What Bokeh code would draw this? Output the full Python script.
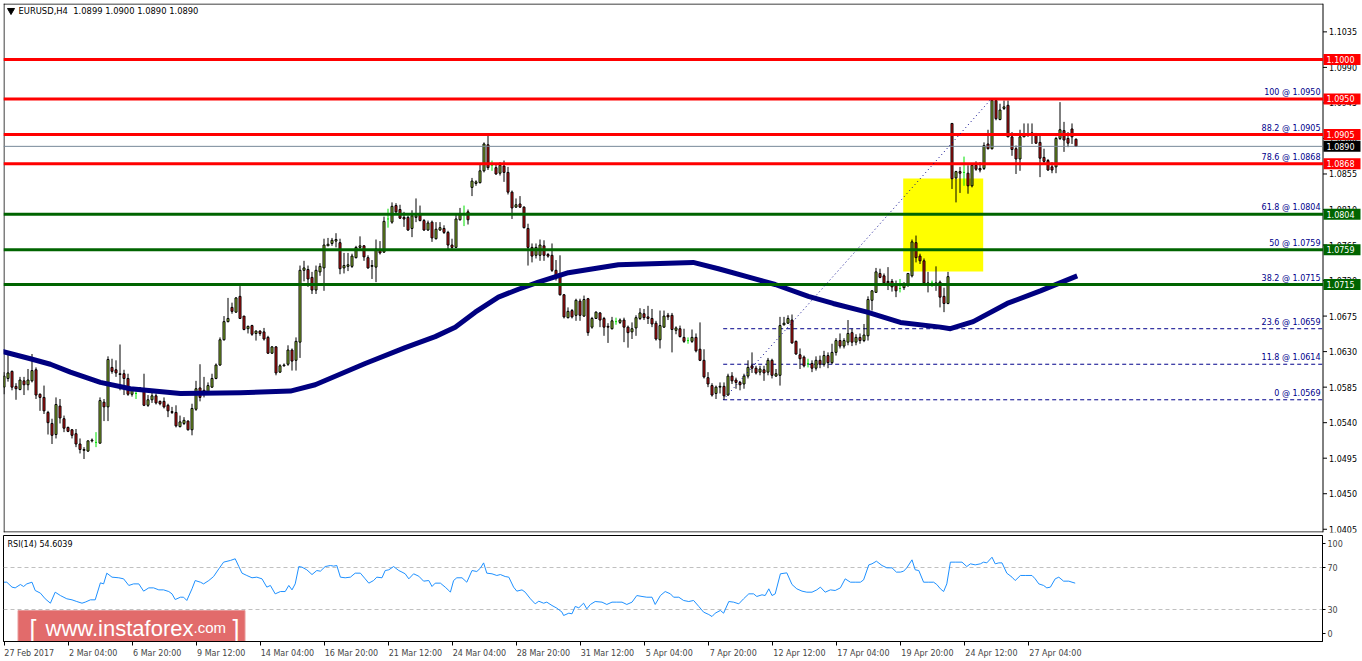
from bokeh.plotting import figure
from bokeh.layouts import column
from bokeh.models import Range1d, FixedTicker
from bokeh.core.properties import value
from bokeh.embed import file_html
from bokeh.resources import INLINE

# ---------------- data ----------------
opens = [1.0585,1.0596,1.0605,1.0586,1.0582,1.0593,1.0588,1.0593,1.0607,1.0576,
         1.0572,1.0553,1.0539,1.0525,1.0561,1.0545,1.0534,1.0531,1.0526,1.0513,
         1.0506,1.0504,1.0517,1.0515,1.0514,1.0566,1.0560,1.0610,1.0607,1.0602,
         1.0602,1.0596,1.0576,1.0577,1.0581,1.0581,1.0562,1.0569,1.0574,1.0567,
         1.0567,1.0562,1.0554,1.0553,1.0535,1.0539,1.0542,1.0531,1.0557,1.0584,
         1.0581,1.0579,1.0585,1.0596,1.0613,1.0645,1.0668,1.0686,1.0680,1.0700,
         1.0675,1.0659,1.0663,1.0653,1.0656,1.0655,1.0648,1.0628,1.0636,1.0604,
         1.0612,1.0614,1.0632,1.0619,1.0642,1.0733,1.0734,1.0724,1.0708,1.0731,
         1.0736,1.0764,1.0767,1.0770,1.0768,1.0736,1.0738,1.0738,1.0749,1.0762,
         1.0764,1.0749,1.0738,1.0737,1.0758,1.0756,1.0798,1.0794,1.0815,1.0810,
         1.0800,1.0800,1.0786,1.0800,1.0805,1.0796,1.0784,1.0794,1.0773,1.0784,
         1.0786,1.0781,1.0765,1.0762,1.0797,1.0805,1.0807,1.0838,1.0843,1.0844,
         1.0859,1.0892,1.0866,1.0863,1.0856,1.0865,1.0857,1.0832,1.0813,1.0817,
         1.0813,1.0786,1.0762,1.0752,1.0752,1.0764,1.0753,1.0752,1.0733,1.0729,
         1.0702,1.0673,1.0682,1.0676,1.0694,1.0675,1.0697,1.0661,1.0672,1.0679,
         1.0672,1.0662,1.0659,1.0668,1.0667,1.0670,1.0661,1.0655,1.0660,1.0672,
         1.0678,1.0674,1.0672,1.0666,1.0645,1.0661,1.0676,1.0676,1.0657,1.0659,
         1.0648,1.0644,1.0643,1.0648,1.0633,1.0619,1.0597,1.0587,1.0577,1.0585,
         1.0586,1.0575,1.0599,1.0594,1.0591,1.0589,1.0599,1.0612,1.0609,1.0604,
         1.0607,1.0604,1.0619,1.0599,1.0600,1.0664,1.0666,1.0670,1.0643,1.0626,
         1.0623,1.0615,1.0615,1.0609,1.0619,1.0614,1.0625,1.0616,1.0629,1.0644,
         1.0637,1.0642,1.0654,1.0642,1.0648,1.0644,1.0650,1.0695,1.0705,1.0729,
         1.0726,1.0719,1.0719,1.0714,1.0710,1.0711,1.0716,1.0726,1.0768,1.0751,
         1.0745,1.0716,1.0717,1.0717,1.0718,1.0700,1.0691,1.0919,1.0850,1.0858,
         1.0857,1.0856,1.0840,1.0866,1.0862,1.0862,1.0893,1.0887,1.0948,1.0924,
         1.0938,1.0942,1.0902,1.0887,1.0874,1.0902,1.0905,1.0905,1.0904,1.0895,
         1.0876,1.0872,1.0864,1.0864,1.0900,1.0910,1.0900,1.0912,1.0899]
highs = [1.0604,1.0626,1.0606,1.0590,1.0598,1.0598,1.0608,1.0627,1.0610,1.0577,
         1.0587,1.0555,1.0545,1.0572,1.0570,1.0549,1.0535,1.0532,1.0532,1.0520,
         1.0509,1.0517,1.0520,1.0528,1.0572,1.0570,1.0624,1.0621,1.0619,1.0639,
         1.0607,1.0602,1.0585,1.0583,1.0585,1.0602,1.0575,1.0579,1.0577,1.0568,
         1.0572,1.0564,1.0560,1.0562,1.0549,1.0547,1.0543,1.0564,1.0593,1.0614,
         1.0598,1.0591,1.0602,1.0615,1.0648,1.0675,1.0698,1.0692,1.0699,1.0713,
         1.0675,1.0663,1.0664,1.0657,1.0657,1.0660,1.0650,1.0637,1.0637,1.0614,
         1.0615,1.0638,1.0634,1.0648,1.0739,1.0745,1.0739,1.0731,1.0739,1.0742,
         1.0773,1.0774,1.0774,1.0780,1.0773,1.0755,1.0755,1.0754,1.0764,1.0776,
         1.0765,1.0752,1.0746,1.0772,1.0770,1.0801,1.0811,1.0819,1.0818,1.0816,
         1.0807,1.0802,1.0809,1.0824,1.0815,1.0798,1.0796,1.0796,1.0794,1.0794,
         1.0790,1.0783,1.0773,1.0805,1.0812,1.0815,1.0810,1.0850,1.0847,1.0868,
         1.0895,1.0904,1.0872,1.0868,1.0870,1.0872,1.0864,1.0834,1.0824,1.0827,
         1.0814,1.0792,1.0767,1.0767,1.0772,1.0771,1.0755,1.0767,1.0746,1.0752,
         1.0703,1.0686,1.0684,1.0697,1.0697,1.0701,1.0698,1.0674,1.0681,1.0680,
         1.0674,1.0666,1.0674,1.0673,1.0672,1.0673,1.0663,1.0667,1.0676,1.0685,
         1.0684,1.0688,1.0684,1.0669,1.0682,1.0682,1.0679,1.0679,1.0662,1.0663,
         1.0659,1.0648,1.0658,1.0653,1.0667,1.0633,1.0604,1.0590,1.0587,1.0591,
         1.0591,1.0602,1.0604,1.0597,1.0593,1.0602,1.0619,1.0629,1.0612,1.0612,
         1.0612,1.0622,1.0621,1.0608,1.0674,1.0674,1.0676,1.0677,1.0644,1.0634,
         1.0625,1.0621,1.0619,1.0624,1.0625,1.0631,1.0629,1.0640,1.0647,1.0653,
         1.0647,1.0670,1.0659,1.0652,1.0653,1.0665,1.0700,1.0708,1.0736,1.0735,
         1.0729,1.0737,1.0722,1.0720,1.0722,1.0718,1.0729,1.0772,1.0777,1.0754,
         1.0748,1.0731,1.0720,1.0738,1.0720,1.0711,1.0731,1.0919,1.0859,1.0864,
         1.0877,1.0866,1.0867,1.0871,1.0870,1.0895,1.0911,1.0950,1.0950,1.0944,
         1.0948,1.0948,1.0908,1.0891,1.0911,1.0919,1.0919,1.0919,1.0907,1.0906,
         1.0887,1.0874,1.0870,1.0902,1.0946,1.0921,1.0908,1.0919,1.0900]
lows = [1.0576,1.0592,1.0581,1.0569,1.0581,1.0575,1.0581,1.0591,1.0570,1.0555,
        1.0551,1.0525,1.0513,1.0520,1.0539,1.0528,1.0528,1.0520,1.0509,1.0501,
        1.0494,1.0503,1.0515,1.0509,1.0514,1.0542,1.0542,1.0602,1.0598,1.0581,
        1.0575,1.0574,1.0573,1.0570,1.0580,1.0561,1.0560,1.0565,1.0563,1.0562,
        1.0558,1.0547,1.0551,1.0534,1.0534,1.0537,1.0530,1.0524,1.0555,1.0567,
        1.0572,1.0577,1.0584,1.0595,1.0612,1.0644,1.0667,1.0678,1.0679,1.0672,
        1.0657,1.0653,1.0650,1.0644,1.0650,1.0644,1.0627,1.0627,1.0600,1.0603,
        1.0611,1.0612,1.0606,1.0606,1.0622,1.0719,1.0712,1.0703,1.0703,1.0726,
        1.0707,1.0764,1.0764,1.0762,1.0728,1.0729,1.0732,1.0736,1.0748,1.0760,
        1.0745,1.0735,1.0722,1.0718,1.0753,1.0755,1.0787,1.0792,1.0805,1.0798,
        1.0788,1.0783,1.0775,1.0794,1.0795,1.0783,1.0783,1.0769,1.0772,1.0783,
        1.0779,1.0760,1.0760,1.0762,1.0796,1.0789,1.0791,1.0827,1.0840,1.0843,
        1.0857,1.0860,1.0859,1.0854,1.0853,1.0845,1.0829,1.0798,1.0812,1.0812,
        1.0786,1.0739,1.0743,1.0748,1.0745,1.0745,1.0749,1.0731,1.0720,1.0701,
        1.0672,1.0672,1.0672,1.0669,1.0669,1.0674,1.0650,1.0659,1.0672,1.0661,
        1.0650,1.0641,1.0658,1.0664,1.0665,1.0642,1.0635,1.0646,1.0650,1.0670,
        1.0670,1.0665,1.0661,1.0644,1.0634,1.0660,1.0670,1.0629,1.0652,1.0648,
        1.0641,1.0640,1.0641,1.0629,1.0618,1.0596,1.0585,1.0573,1.0570,1.0577,
        1.0569,1.0574,1.0589,1.0583,1.0581,1.0583,1.0596,1.0603,1.0601,1.0600,
        1.0593,1.0600,1.0596,1.0598,1.0587,1.0663,1.0665,1.0640,1.0626,1.0608,
        1.0610,1.0610,1.0604,1.0606,1.0609,1.0611,1.0609,1.0614,1.0625,1.0634,
        1.0634,1.0638,1.0637,1.0638,1.0640,1.0642,1.0644,1.0682,1.0705,1.0723,
        1.0714,1.0708,1.0706,1.0699,1.0705,1.0708,1.0712,1.0724,1.0743,1.0741,
        1.0716,1.0705,1.0712,1.0707,1.0686,1.0680,1.0690,1.0836,1.0819,1.0831,
        1.0840,1.0830,1.0838,1.0859,1.0857,1.0860,1.0886,1.0886,1.0923,1.0923,
        1.0936,1.0902,1.0878,1.0855,1.0859,1.0902,1.0902,1.0893,1.0893,1.0851,
        1.0867,1.0859,1.0856,1.0856,1.0898,1.0883,1.0889,1.0893,1.0890]
closes = [1.0599,1.0603,1.0585,1.0583,1.0594,1.0588,1.0594,1.0606,1.0575,1.0572,
          1.0555,1.0540,1.0524,1.0563,1.0546,1.0533,1.0529,1.0524,1.0513,1.0506,
          1.0505,1.0517,1.0518,1.0515,1.0568,1.0560,1.0620,1.0605,1.0603,1.0601,
          1.0596,1.0576,1.0581,1.0577,1.0584,1.0562,1.0569,1.0574,1.0565,1.0564,
          1.0560,1.0555,1.0553,1.0536,1.0541,1.0543,1.0531,1.0558,1.0583,1.0572,
          1.0579,1.0587,1.0596,1.0613,1.0645,1.0668,1.0672,1.0681,1.0698,1.0672,
          1.0658,1.0662,1.0652,1.0656,1.0653,1.0646,1.0628,1.0636,1.0603,1.0612,
          1.0613,1.0632,1.0618,1.0643,1.0733,1.0736,1.0722,1.0708,1.0733,1.0738,
          1.0765,1.0766,1.0771,1.0772,1.0735,1.0739,1.0740,1.0751,1.0762,1.0764,
          1.0750,1.0736,1.0739,1.0760,1.0755,1.0795,1.0798,1.0814,1.0807,1.0799,
          1.0798,1.0784,1.0802,1.0802,1.0796,1.0784,1.0793,1.0774,1.0785,1.0787,
          1.0781,1.0765,1.0762,1.0798,1.0805,1.0805,1.0797,1.0846,1.0845,1.0859,
          1.0893,1.0863,1.0866,1.0855,1.0866,1.0857,1.0832,1.0812,1.0816,1.0813,
          1.0787,1.0762,1.0751,1.0762,1.0765,1.0752,1.0751,1.0733,1.0724,1.0702,
          1.0674,1.0681,1.0674,1.0695,1.0676,1.0696,1.0654,1.0672,1.0680,1.0670,
          1.0661,1.0661,1.0669,1.0668,1.0670,1.0661,1.0654,1.0659,1.0673,1.0679,
          1.0673,1.0672,1.0665,1.0646,1.0663,1.0675,1.0674,1.0658,1.0660,1.0649,
          1.0643,1.0644,1.0648,1.0631,1.0619,1.0598,1.0589,1.0575,1.0585,1.0586,
          1.0574,1.0599,1.0593,1.0591,1.0588,1.0599,1.0610,1.0609,1.0603,1.0608,
          1.0603,1.0619,1.0600,1.0602,1.0663,1.0666,1.0672,1.0641,1.0627,1.0621,
          1.0612,1.0615,1.0609,1.0619,1.0614,1.0625,1.0616,1.0629,1.0644,1.0637,
          1.0644,1.0653,1.0642,1.0648,1.0644,1.0651,1.0696,1.0707,1.0731,1.0724,
          1.0717,1.0717,1.0712,1.0707,1.0710,1.0714,1.0729,1.0769,1.0749,1.0745,
          1.0717,1.0717,1.0717,1.0716,1.0699,1.0691,1.0725,1.0849,1.0858,1.0856,
          1.0857,1.0840,1.0866,1.0861,1.0860,1.0891,1.0887,1.0948,1.0925,1.0936,
          1.0940,1.0902,1.0886,1.0874,1.0902,1.0906,1.0906,1.0907,1.0894,1.0875,
          1.0871,1.0860,1.0860,1.0900,1.0911,1.0898,1.0894,1.0902,1.0890]

# moving average (bar position, price)
ma_x = [-1.0, 6.6, 11.6, 16.6, 24.1, 31.6, 44.1, 59.1, 71.6, 77.8, 90.3, 100.3, 107.8,
        112.8, 117.8, 123.6, 128.6, 133.6, 141.1, 153.6, 166.1, 172.3, 178.6, 187.1,
        192.8, 201.1, 207.3, 215.8, 224.1, 234.1, 236.6, 242.3, 250.8, 259.1, 268.3]
ma_y = [1.0631, 1.0621, 1.0614, 1.0604, 1.0591, 1.0583, 1.0577, 1.0578, 1.0580, 1.0588,
        1.0615, 1.0635, 1.0649, 1.0661, 1.0680, 1.0699, 1.0709, 1.0718, 1.0730, 1.0740,
        1.0742, 1.0743, 1.0735, 1.0723, 1.0715, 1.0700, 1.0691, 1.0680, 1.0667, 1.0661,
        1.0659, 1.0668, 1.0691, 1.0707, 1.0726]

# RSI(14) (bar position, value)
rsi_x = [0.0,0.7,2.0,2.8,4.1,4.9,5.7,7.0,7.8,9.1,10.3,11.6,12.8,14.1,15.7,17.0,18.2,19.5,20.3,
         21.6,22.8,24.1,24.9,25.7,27.0,28.7,29.9,31.2,32.4,33.7,34.9,36.2,37.4,38.7,39.9,41.2,
         42.0,42.8,44.1,44.9,45.7,47.0,47.8,49.1,49.9,51.2,52.4,53.7,54.9,56.6,57.8,58.7,59.5,
         60.7,62.0,63.2,64.5,65.7,66.6,67.8,69.1,70.3,71.2,72.0,72.8,73.7,74.5,75.7,77.0,78.2,
         79.1,80.3,81.6,82.4,83.2,84.1,85.3,86.6,87.8,89.1,90.3,91.2,92.4,93.2,94.5,95.3,96.2,
         97.4,98.7,99.5,100.3,101.2,102.4,103.7,104.9,106.2,107.0,107.8,109.1,110.3,111.2,
         111.6,112.4,113.2,114.5,115.7,117.0,118.2,119.1,119.9,120.7,122.0,123.2,124.1,125.3,
         126.2,127.4,128.2,129.5,130.3,131.6,132.8,133.7,134.9,135.7,137.0,138.2,139.5,139.9,
         141.2,142.0,142.8,143.7,144.9,145.7,146.6,147.8,149.5,150.7,152.0,153.2,154.5,155.7,
         157.0,158.2,159.5,160.7,162.0,162.8,164.1,165.3,166.6,167.4,168.7,169.9,171.2,172.4,
         173.7,174.9,176.2,177.0,177.8,179.1,179.9,181.2,182.4,183.7,184.9,186.2,187.4,188.2,
         189.5,190.3,191.2,192.0,192.8,194.1,195.7,197.0,198.2,199.5,200.7,202.0,203.2,204.1,
         205.3,206.6,207.8,209.1,210.3,211.6,212.8,214.1,214.9,216.2,217.0,218.1,219.5,220.7,
         222.0,223.1,224.1,224.9,225.7,227.0,227.8,228.7,229.9,231.2,232.4,233.2,234.1,234.9,
         235.7,236.6,237.8,239.5,240.7,241.6,242.8,244.1,244.9,245.7,247.0,247.8,248.7,249.5,
         250.7,252.0,252.8,254.1,255.3,257.0,257.8,258.7,259.9,260.7,261.6,262.8,263.7,264.9,
         266.2,267.0,267.8]
rsi_v = [56.0,56.0,51.3,50.6,53.8,51.9,54.4,56.0,48.1,45.6,40.2,36.0,46.5,43.3,40.2,39.2,37.6,36.0,37.0,
         39.2,39.2,55.4,54.4,64.6,60.8,60.2,59.2,52.9,54.4,54.4,47.5,50.6,50.6,48.7,48.7,47.1,
         44.9,39.5,41.7,41.7,38.6,49.7,57.6,56.0,54.4,57.6,61.4,68.7,75.1,76.7,78.3,71.0,64.6,
         62.4,60.2,60.8,59.2,51.3,52.9,44.9,47.1,47.1,52.9,48.7,54.4,70.9,70.3,67.8,63.3,67.1,
         66.5,70.9,71.9,71.3,71.9,60.8,60.2,60.8,64.6,64.6,59.2,55.1,57.6,60.8,60.2,67.1,67.8,
         70.9,67.1,65.6,64.0,59.2,64.0,61.7,57.0,57.6,51.9,55.1,55.1,51.3,48.1,
         46.5,57.6,60.2,60.2,56.0,67.1,66.2,69.4,74.4,64.6,64.0,62.4,63.3,61.4,
         60.8,51.3,47.5,48.7,46.5,40.2,35.4,37.9,36.0,37.0,33.8,31.3,27.5,24.3,
         26.5,25.9,32.9,31.6,36.0,30.6,34.8,37.6,37.0,34.8,37.0,37.0,37.0,34.8,
         37.0,43.3,42.4,41.7,41.7,34.8,43.3,47.1,44.9,41.7,41.7,38.6,37.6,38.6,
         32.9,27.5,25.2,23.3,26.5,29.1,26.5,37.6,37.0,35.4,40.2,44.9,44.9,42.4,
         44.0,43.3,49.7,43.3,44.9,64.0,64.9,53.8,49.7,47.5,46.5,46.5,48.7,51.3,
         46.5,48.7,48.1,50.6,59.2,56.0,56.0,56.0,58.2,72.5,73.5,76.0,71.9,69.7,
         69.7,65.6,65.6,66.5,69.7,77.3,67.8,67.1,56.0,56.0,56.0,53.8,49.7,47.1,
         54.4,75.1,75.1,75.1,70.9,73.5,72.5,73.5,75.1,74.4,79.8,73.5,74.4,74.4,
         64.6,60.8,57.6,62.4,62.4,62.4,59.2,54.4,52.9,50.6,51.3,59.2,60.8,57.0,
         57.0,56.0,55.1]

price_ticks = [1.0405, 1.0450, 1.0495, 1.0540, 1.0585, 1.0630, 1.0675, 1.0720,
               1.0765, 1.0810, 1.0855, 1.0900, 1.0945, 1.0990, 1.1035]

level_prices = [1.1000, 1.0950, 1.0905, 1.0868, 1.0804, 1.0759, 1.0715]
level_colors = ["#FF0000", "#FF0000", "#FF0000", "#FF0000", "#006400", "#006400", "#006400"]
last_price = 1.0890

fib_pct = ["100", "88.2", "78.6", "61.8", "50", "38.2", "23.6", "11.8", "0"]
fib_prices = [1.0950, 1.0905, 1.0868, 1.0804, 1.0759, 1.0715, 1.0659, 1.0614, 1.0569]
fib_start_bar = 179.8
fib_end_bar = 246.8

zone_bars = [224.8, 244.8]
zone_prices = [1.07315, 1.08493]

time_bars = [0, 16, 32, 48, 64, 80, 96, 112, 128, 144, 160, 176, 192, 208, 224, 240, 256]
time_labels = ["27 Feb 2017", "2 Mar 04:00", "6 Mar 20:00", "9 Mar 12:00", "14 Mar 04:00",
               "16 Mar 20:00", "21 Mar 12:00", "24 Mar 04:00", "28 Mar 20:00", "31 Mar 12:00",
               "5 Apr 04:00", "7 Apr 20:00", "12 Apr 12:00", "17 Apr 04:00", "19 Apr 20:00",
               "24 Apr 12:00", "27 Apr 04:00"]

header_text = "EURUSD,H4\u00a0\u00a01.0899 1.0900 1.0890 1.0890"
rsi_text = "RSI(14) 54.6039"

# ---------------- layout constants ----------------
FONT = "DejaVu Sans"
FS = "8px"
BULL = "#9ACD32"
BEAR = "#DC1414"
DOJI = "#00E000"
NAVY = "#00008B"
PXB = 4.0                      # pixels per bar

X0 = -0.125                    # bar coordinate at the left frame edge
PW = 1359                      # price frame width (incl. price scale area)
RW = 1319                      # rsi frame width
XS = X0 + 1319.5 / PXB         # price scale separator line
P_LO, P_HI = 1.040089, 1.107093
P_H = 529
PPU = P_H / (P_HI - P_LO)
R_LO, R_HI = -0.476, 100.476
R_H = 106
RPU = R_H / (R_HI - R_LO)


def px_x(dpx):
    return dpx / PXB


def px_p(dpx):
    return dpx / PPU


# ---------------- price pane ----------------
p = figure(frame_width=PW, frame_height=P_H,
           x_range=Range1d(X0, X0 + PW / PXB), y_range=Range1d(P_LO, P_HI),
           output_backend="svg", toolbar_location=None,
           x_axis_location=None, y_axis_location=None,
           min_border_left=3, min_border_top=3, min_border_bottom=3, min_border_right=0,
           background_fill_color="white", border_fill_color="white")
p.grid.visible = False
p.outline_line_color = None

# frame border of the price window (left, top, bottom, right = scale line)
p.segment(x0=[X0 + px_x(0.5), X0, X0, XS], x1=[X0 + px_x(0.5), XS, XS, XS],
          y0=[P_LO, P_HI - px_p(0.5), P_LO + px_p(0.5), P_LO],
          y1=[P_HI, P_HI - px_p(0.5), P_LO + px_p(0.5), P_HI],
          line_color="black", line_width=1)

# yellow zone
p.quad(left=[zone_bars[0]], right=[zone_bars[1]], bottom=[zone_prices[0]], top=[zone_prices[1]],
       fill_color="#FFFF00", line_color=None)

# fib dashed levels
p.segment(x0=[fib_start_bar] * len(fib_prices), x1=[XS] * len(fib_prices),
          y0=fib_prices, y1=fib_prices, line_color=NAVY, line_width=1, line_dash="4 3")

# candles
bars = list(range(len(opens)))
body = [i for i in bars if closes[i] != opens[i]]
up = [i for i in bars if closes[i] > opens[i]]
dn = [i for i in bars if closes[i] < opens[i]]
dj = [i for i in bars if closes[i] == opens[i]]

p.segment(x0=body, x1=body, y0=[lows[i] for i in body], y1=[highs[i] for i in body],
          line_color="black", line_width=1)
p.vbar(x=up, width=0.5, bottom=[opens[i] for i in up], top=[closes[i] for i in up],
       fill_color=BULL, line_color="black", line_width=1)
p.vbar(x=dn, width=0.5, top=[opens[i] for i in dn], bottom=[closes[i] for i in dn],
       fill_color=BEAR, line_color="black", line_width=1)
p.segment(x0=dj, x1=dj, y0=[lows[i] for i in dj], y1=[highs[i] for i in dj],
          line_color=DOJI, line_width=1)
p.segment(x0=[i - 0.25 for i in dj], x1=[i + 0.25 for i in dj],
          y0=[closes[i] for i in dj], y1=[closes[i] for i in dj], line_color=DOJI, line_width=1)

# moving average
p.line(ma_x, ma_y, line_color="#000080", line_width=5, line_join="round")

# horizontal levels
p.segment(x0=[X0] * len(level_prices), x1=[XS] * len(level_prices),
          y0=level_prices, y1=level_prices, line_color=level_colors, line_width=3)
p.segment(x0=[X0], x1=[XS], y0=[last_price], y1=[last_price],
          line_color="#778899", line_width=1)

# fib trend line
p.line([fib_start_bar, fib_end_bar], [fib_prices[-1], fib_prices[0]],
       line_color=NAVY, line_width=1, line_dash="1 3")

# fib labels
p.text(x=[XS - px_x(2.5)] * len(fib_prices), y=[v + px_p(2.0) for v in fib_prices],
       text=[f"{a} @ {b:.4f}" for a, b in zip(fib_pct, fib_prices)],
       text_align="right", text_baseline="bottom", text_font=value(FONT),
       text_font_size=FS, text_color=NAVY)

# header
p.scatter([X0 + px_x(7.5)], [P_HI - px_p(7.0)], marker="inverted_triangle", size=7,
          fill_color="black", line_color="black")
p.text(x=[X0 + px_x(15.0)], y=[P_HI - px_p(7.5)], text=[header_text],
       text_font=value(FONT), text_font_size="8.4px", text_color="black",
       text_baseline="middle", text_align="left")

# price scale: ticks and labels
p.segment(x0=[XS] * len(price_ticks), x1=[XS + px_x(4)] * len(price_ticks),
          y0=price_ticks, y1=price_ticks, line_color="black", line_width=1)
p.text(x=[XS + px_x(6.0)] * len(price_ticks), y=price_ticks,
       text=[f"{t:.4f}" for t in price_ticks], text_font=value(FONT), text_font_size=FS,
       text_color="black", text_baseline="middle", text_align="left")

# price boxes on the scale
box_prices = level_prices + [last_price]
box_colors = level_colors + ["#000000"]
p.quad(left=[XS + px_x(0.5)] * len(box_prices), right=[XS + px_x(37.5)] * len(box_prices),
       bottom=[b - px_p(5.5) for b in box_prices], top=[b + px_p(5.5) for b in box_prices],
       fill_color=box_colors, line_color=None)
p.text(x=[XS + px_x(3.5)] * len(box_prices), y=box_prices,
       text=[f"{b:.4f}" for b in box_prices], text_font=value(FONT), text_font_size=FS,
       text_color="white", text_baseline="middle", text_align="left")

# ---------------- RSI pane ----------------
r = figure(frame_width=RW, frame_height=R_H,
           x_range=Range1d(X0, X0 + RW / PXB), y_range=Range1d(R_LO, R_HI),
           output_backend="svg", toolbar_location=None, y_axis_location="right",
           min_border_left=3, min_border_top=0, min_border_bottom=0, min_border_right=40,
           background_fill_color="white", border_fill_color="white")
r.grid.visible = False
r.outline_line_color = "black"

r.segment(x0=[X0, X0], x1=[X0 + RW / PXB] * 2, y0=[70, 30], y1=[70, 30],
          line_color="#C0C0C0", line_width=1, line_dash="4 3")
r.line(rsi_x, rsi_v, line_color="#1E90FF", line_width=1)

ry = r.yaxis[0]
ry.ticker = FixedTicker(ticks=[6.8, 30, 70, 93.2])
ry.major_label_overrides = {6.8: "0", 30: "30", 70: "70", 93.2: "100"}
ry.major_tick_out = 3
ry.major_tick_in = 0
ry.minor_tick_out = 0
ry.minor_tick_in = 0
ry.major_label_standoff = 2
ry.major_label_text_font = FONT
ry.major_label_text_font_size = FS
ry.axis_line_color = "black"

label_centers = [round(b + (len(t) * 4.4 / 2.0 + 1.0) / PXB, 2) for b, t in zip(time_bars, time_labels)]
rx = r.xaxis[0]
rx.ticker = FixedTicker(ticks=label_centers, minor_ticks=time_bars)
rx.major_label_overrides = {c: t for c, t in zip(label_centers, time_labels)}
rx.major_tick_out = 0
rx.major_tick_in = 0
rx.minor_tick_out = 4
rx.minor_tick_in = 0
rx.minor_tick_line_color = "black"
rx.major_label_standoff = 3
rx.major_label_text_font = FONT
rx.major_label_text_font_size = FS
rx.axis_line_color = "black"

r.text(x=[X0 + px_x(4.0)], y=[R_HI - 9.0 / RPU], text=[rsi_text],
       text_font=value(FONT), text_font_size=FS, text_color="black",
       text_baseline="middle", text_align="left")

# watermark
r.quad(left=[X0 + px_x(14.5)], right=[X0 + px_x(241.5)],
       top=[R_HI - 75.0 / RPU], bottom=[R_LO - 4.0 / RPU],
       fill_color="#D83A3A", fill_alpha=0.75, line_color="#E89A9A", line_width=1)
wm_mid = R_HI - 93.0 / RPU
r.text(x=[X0 + px_x(26.0)], y=[wm_mid], text=["["],
       text_font=value("Liberation Sans"), text_font_size="25px", text_color="white",
       text_baseline="middle", text_align="left")
r.text(x=[X0 + px_x(42.0)], y=[wm_mid], text=["www.instaforex"],
       text_font=value("Liberation Sans"), text_font_size="22px", text_color="white",
       text_baseline="middle", text_align="left")
r.text(x=[X0 + px_x(190.0)], y=[wm_mid + 1.5 / RPU], text=[".com"],
       text_font=value("Liberation Sans"), text_font_size="15px", text_color="white",
       text_baseline="middle", text_align="left")
r.text(x=[X0 + px_x(229.0)], y=[wm_mid], text=["]"],
       text_font=value("Liberation Sans"), text_font_size="25px", text_color="white",
       text_baseline="middle", text_align="left")

layout = column(p, r)
open("out.html", "w").write(file_html(layout, INLINE))
